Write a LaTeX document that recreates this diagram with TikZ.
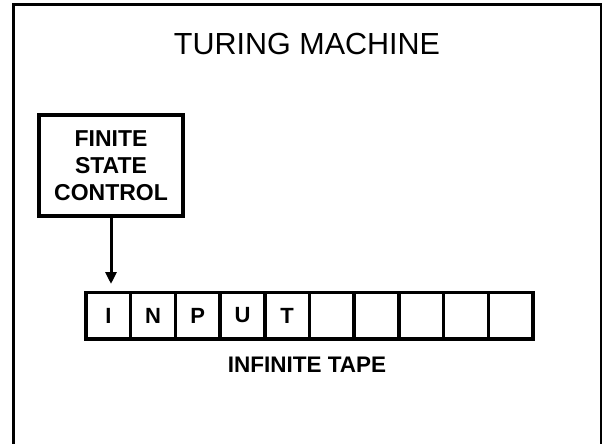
\documentclass[tikz,border=0pt]{standalone}
\usepackage{fontspec}
\setmainfont{Liberation Sans}
\usetikzlibrary{arrows.meta}
\tikzset{
  frameline/.style={line width=3pt, line cap=rect},
  fscbox/.style={draw, line width=3.6pt, minimum width=144pt, minimum height=101pt, inner sep=0pt,
     align=center, font=\bfseries\fontsize{23}{27}\selectfont},
  cell/.style={draw, line width=3.5pt, minimum width=44.7pt, minimum height=46.5pt, inner sep=0pt,
     font=\bfseries\fontsize{22}{24}\selectfont},
  title/.style={font=\fontsize{30.5}{34}\selectfont, inner sep=0pt},
  caption/.style={font=\bfseries\fontsize{22.5}{25}\selectfont, inner sep=0pt},
  headarrow/.style={line width=3pt, -{Triangle[length=12pt,width=11pt]}}
}
\begin{document}
\begin{tikzpicture}[x=1pt,y=-1pt]
\useasboundingbox (0,0) rectangle (602,444);
\fill[white] (0,0) rectangle (602,444);
\draw[frameline] (13,444) -- (13,4.5) -- (601,4.5) -- (601,444);
\node[title] (title) at (307,44.5) {TURING MACHINE};
\node[fscbox] (fsc) at (111,165.5) {FINITE\\STATE\\CONTROL};
\foreach \i/\t in {1/I,2/N,3/P,4/U,5/T,6/,7/,8/,9/,10/}{
  \node[cell] (c\i) at ({86+22.35+44.7*(\i-1)},315.5) {\t};
}
\coordinate (tip) at (111,284);
\draw[headarrow] (fsc.south) -- (tip);
\node[caption] (tape) at (307,365) {INFINITE TAPE};
\end{tikzpicture}
\end{document}
